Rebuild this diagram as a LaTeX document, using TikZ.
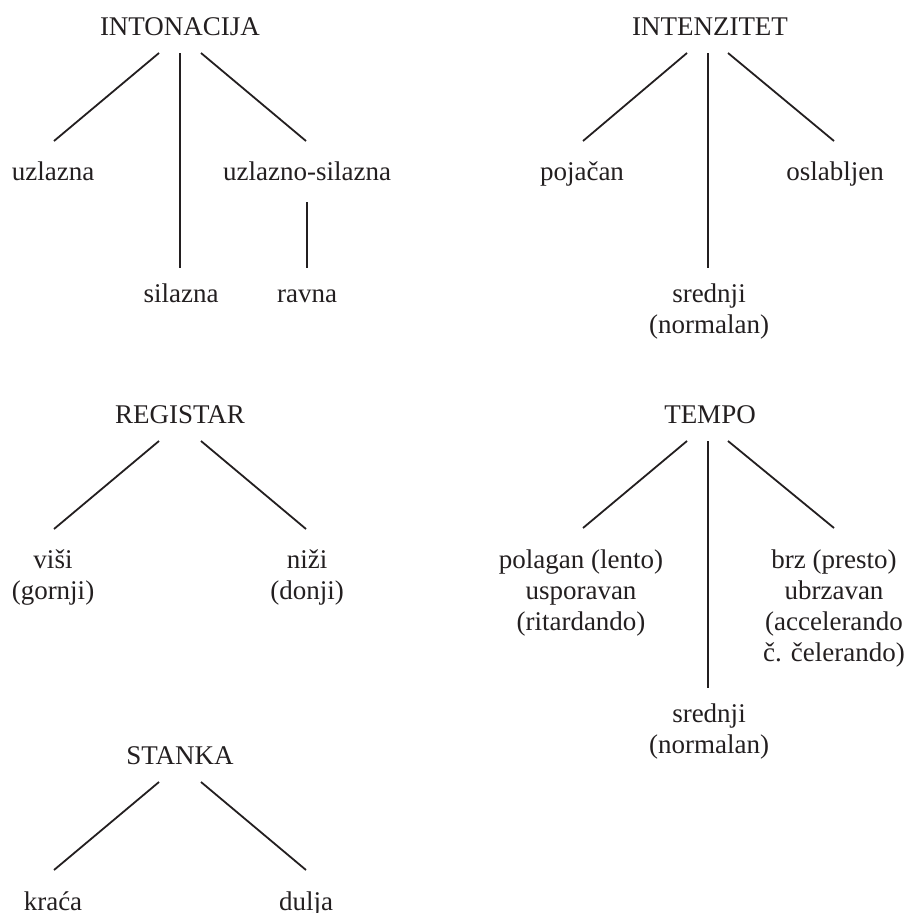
\documentclass[tikz,border=0pt]{standalone}
\usepackage{fontspec}
\setmainfont{Liberation Serif}
\definecolor{ink}{RGB}{35,31,32}
\begin{document}
\begin{tikzpicture}[x=1pt,y=-1pt,
  lbl/.style={anchor=base,inner sep=0pt,align=center,text=ink,font=\fontsize{27}{31}\selectfont},
  conn/.style={draw=ink,line width=1.8pt}]
\useasboundingbox (0,0) rectangle (909,913);
% INTONACIJA
\node[lbl] (INT) at (180,35) {INTONACIJA};
\node[lbl] (uz) at (53,180) {uzlazna};
\node[lbl] (uzs) at (307,180) {uzlazno-silazna};
\node[lbl] (sil) at (181,302) {silazna};
\node[lbl] (rav) at (307,302) {ravna};
\draw[conn] ([shift={(-21,18)}]INT.base) -- ([shift={(1,-39)}]uz.base);
\draw[conn] ([shift={(0,18)}]INT.base) -- ([shift={(-1,-34)}]sil.base);
\draw[conn] ([shift={(21,18)}]INT.base) -- ([shift={(-1,-39)}]uzs.base);
\draw[conn] ([shift={(0,22)}]uzs.base) -- ([shift={(0,-34)}]rav.base);
% INTENZITET
\node[lbl] (IZ) at (710,35) {INTENZITET};
\node[lbl] (poj) at (582,180) {pojačan};
\node[lbl] (osl) at (835,180) {oslabljen};
\node[lbl] (sr1) at (709,333) {srednji\\(normalan)};
\draw[conn] ([shift={(-23,18)}]IZ.base) -- ([shift={(1,-39)}]poj.base);
\draw[conn] ([shift={(-2,18)}]IZ.base) -- ([shift={(-1,-65)}]sr1.base);
\draw[conn] ([shift={(18,18)}]IZ.base) -- ([shift={(-1,-39)}]osl.base);
% REGISTAR
\node[lbl] (REG) at (180,423) {REGISTAR};
\node[lbl] (visi) at (53,599) {viši\\(gornji)};
\node[lbl] (nizi) at (307,599) {niži\\(donji)};
\draw[conn] ([shift={(-21,18)}]REG.base) -- ([shift={(1,-70)}]visi.base);
\draw[conn] ([shift={(21,18)}]REG.base) -- ([shift={(-1,-70)}]nizi.base);
% TEMPO
\node[lbl] (TEM) at (710,423) {TEMPO};
\node[lbl] (pol) at (581,630) {polagan (lento)\\usporavan\\(ritardando)};
\node[lbl] (brz) at (834,661) {brz (presto)\\ubrzavan\\(accelerando\\č. čelerando)};
\node[lbl] (sr2) at (709,753) {srednji\\(normalan)};
\draw[conn] ([shift={(-23,18)}]TEM.base) -- ([shift={(2,-102)}]pol.base);
\draw[conn] ([shift={(-2,18)}]TEM.base) -- ([shift={(-1,-65)}]sr2.base);
\draw[conn] ([shift={(18,18)}]TEM.base) -- ([shift={(0,-133)}]brz.base);
% STANKA
\node[lbl] (STA) at (180,764) {STANKA};
\node[lbl] (kra) at (53,910) {kraća};
\node[lbl] (dul) at (306,910) {dulja};
\draw[conn] ([shift={(-21,18)}]STA.base) -- ([shift={(1,-40)}]kra.base);
\draw[conn] ([shift={(21,18)}]STA.base) -- ([shift={(0,-40)}]dul.base);
\end{tikzpicture}
\end{document}
